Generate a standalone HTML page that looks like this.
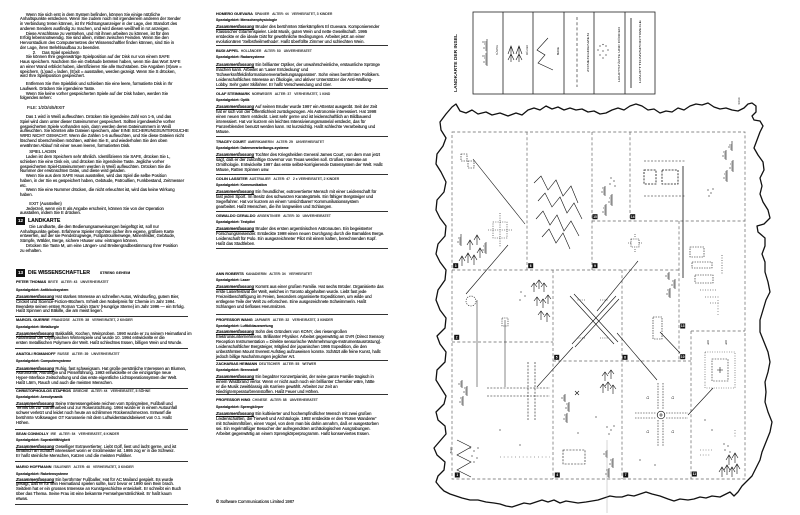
<!DOCTYPE html>
<html><head><meta charset="utf-8">
<style>
html,body{margin:0;padding:0;background:#fff;}
body{width:800px;height:515px;position:relative;overflow:hidden;font-family:"Liberation Sans",sans-serif;color:#111;}
.i,.n,.s,.p,.pm,.h{-webkit-text-stroke:0.12px #111;}
.i{position:absolute;left:20px;font-size:4.2px;line-height:4.75px;white-space:pre;}
.n{position:absolute;font-size:3.7px;line-height:5px;white-space:pre;}
.n b{font-size:3.8px;}
.n span{font-size:3.2px;letter-spacing:.12px;}
.s{position:absolute;font-size:3.5px;font-weight:bold;line-height:5px;white-space:pre;}
.p{position:absolute;font-size:4.2px;line-height:4.8px;white-space:pre;}
.pm{position:absolute;font-size:4.2px;line-height:5px;white-space:pre;}
.p b,.pm b{font-style:italic;text-decoration:underline;}
.L{left:16px;}
.M{left:216px;}
.r{position:absolute;height:0;border-top:0.9px solid #333;}
.rl{left:15px;width:173px;}
.rm{left:216px;width:172px;}
.box{position:absolute;background:#111;color:#fff;font-weight:bold;font-size:4.6px;line-height:8px;text-align:center;}
.h{position:absolute;font-weight:bold;white-space:pre;}
</style></head><body>

<!-- LEFT COLUMN: instructions -->
<div class="i" style="top:12.6px">     Wenn Sie sich erst in dem System befinden, können Sie einige nützliche
Anhaltspunkte entdecken. Wenn Sie zudem noch mit irgendeinem anderen der Sender
in Verbindung treten können, ist Ihr Richtungsanzeiger in der Lage, den Standort des
anderen Senders ausfindig zu machen, und wird diesen weißhell in rot anzeigen.
     Diese Anschlüsse zu verstehen, und mit ihnen arbeiten zu können, ist für den
Erfolg lebensnotwendig. Sie sind allein, mitten zwischen Feinden. Wenn Sie den
Hervorstadium des Computernetzes der Wissenschaftler finden können, sind Sie in
der Lage, ihren Befehlsaufbau zu beenden.
           2.     Das Spiel speichern
     Sie können Ihre gegenwärtige Spielposition auf der Disk nur von einem SAFE
Haus speichern. Nachdem Sie ein Gebäude betreten haben, wenn Sie das Wort SAFE
an einer Wand erblickt haben, identifizieren Sie alle Buchstaben. Die Angaben (S)ave =
speichern, (L)oad = laden, (E)xit = ausstallen, werden gezeigt. Wenn Sie S drücken,
wird Ihre Spielposition gespeichert.</div>
<div class="i" style="top:82.1px">     Entfernen Sie Ihre Spieldisk und schieben Sie eine leere, formatierte Disk in Ihr
Laufwerk. Drücken Sie irgendeine Taste.
     Wenn Sie keine vorher gespeicherten Spiele auf der Disk haben, werden Sie
folgendes sehen:</div>
<div class="i" style="top:105.9px;left:27px">FILE: 1/2/3/4/5/EXIT</div>
<div class="i" style="top:115.1px">     Das 1 wird in Weiß aufleuchten. Drücken Sie irgendeine Zahl von 1-5, und das
Spiel wird dann unter dieser Dateinummer gespeichert. Sollten irgendwelche vorher
gespeicherten Spiele vorhanden sein, dann werden deren Dateinummern in Weiß
aufleuchten. Sie könnten alte Dateien speichern, aber EINE SICHERUNGSUNTERSUCHE
WIRD NICHT GEMACHT. Wenn die Zahlen 1-5 aufleuchten, und Sie diese Dateien nicht
löschend überschreiben möchten, wählen Sie E, und wiederholen Sie den oben
erwähnten Ablauf mit einer neuen leeren, formatierten Disk.</div>
<div class="i" style="top:150.3px">        SPIEL LADEN
     Laden ist dem Speichern sehr ähnlich. Identifizieren Sie SAFE, drücken Sie L,
schieben Sie eine Disk ein, und drücken Sie irgendeine Taste. Jegliche vorher
gespeicherten Spiel-Dateinummern werden in Weiß aufleuchten. Drücken Sie die
Nummer der erwünschten Datei, und diese wird geladen.
     Wenn Sie aus dem SAFE Haus ausstellen, wird das Spiel die selbe Position
haben, in der Sie es gespeichert haben, Gebäude, Patroullien, Funkbestand, Zeitmesser
etc.
     Wenn Sie eine Nummer drücken, die nicht erleuchtet ist, wird das keine Wirkung
haben.</div>
<div class="i" style="top:201.9px">        EXIT (Ausstellen)
     Jederzeit, wenn ein E als Angabe erscheint, können Sie von der Operation
ausstallen, indem Sie E drücken.</div>
<div class="box" style="left:16px;top:217px;width:9px;height:8px;">12</div>
<div class="h" style="left:28px;top:217.5px;font-size:5.2px;line-height:6px;">LANDKARTE</div>
<div class="i" style="top:224.9px">        Die Landkarte, die den Bedienungsanweisungen beigefügt ist, soll nur
Anhaltspunkte geben. Erfahrene Spieler möchten sicher ihre eigene, größere Karte
entwerfen, auf der sie Pendelzugwege, Fußpatrouillenwege, Minenfelder, Gebäude,
Sümpfe, Wälder, Berge, sichere Häuser usw. eintragen können.
     Drücken Sie Taste M, um eine Längen- und Breitengradbestimmung Ihrer Position
zu erhalten.</div>

<!-- LEFT COLUMN: scientists -->
<div class="box" style="left:16px;top:269.3px;width:9px;height:8px;">13</div>
<div class="h" style="left:28px;top:270.3px;font-size:5.2px;line-height:6px;">DIE WISSENSCHAFTLER</div>
<div class="h" style="left:100px;top:271.3px;font-size:3.3px;line-height:4px;letter-spacing:.2px;">STRENG GEHEIM</div>

<div class="n L" style="top:280.2px"><b>PETER THOMAS</b><span>  BRITE   ALTER: 43   UNVERHEIRATET</span></div>
<div class="s L" style="top:287.5px">Spezialgebiet: Antiblocksystem</div>
<div class="p L" style="top:295.1px"><b>Zusammenfassung</b> Hat starkes Interesse an schnellen Autos, Windsurfing, gutem Bier,
Cricket und Science-Fiction-Büchern. Erhielt den Nobelpreis für Chemie im Jahr 1994.
Beendete seinen ersten Roman 'Cabin Stars' (Hungrige Sterne) im Jahr 1996 — ein Erfolg.
Haßt Spinnen und Bäkille, die am meist liegen.</div>
<div class="r rl" style="top:315.5px"></div>

<div class="n L" style="top:318.2px"><b>MARCEL GUERRE</b><span>  FRANZOSE   ALTER: 38   VERHEIRATET, 2 KINDER</span></div>
<div class="s L" style="top:325.2px">Spezialgebiet: Metallurgie</div>
<div class="p L" style="top:331.6px"><b>Zusammenfassung</b> Bakkalitik, Kochen, Weinproben. 1990 wurde er zu seinem Heimatland im
Abfahrtlauf der Olympischen Winterspiele und wurde 10. 1994 entwickelte er die
ersten metallischen Polymere der Welt. Haßt schlechtes Essen, billigen Wein und Wunde.</div>
<div class="r rl" style="top:347.5px"></div>

<div class="n L" style="top:351.5px"><b>ANATOLI ROMANOFF</b><span>  RUSSE   ALTER: 39   UNVERHEIRATET</span></div>
<div class="s L" style="top:359px">Spezialgebiet: Computersysteme</div>
<div class="p L" style="top:366.6px"><b>Zusammenfassung</b> Ruhig, fast schweigsam. Hat große persönliche Interessen an Blumen,
Astronomie, Astrologie und Pinselführung. 1993 entwickelte er die einzigartige neue
Hyper-Interface Zeitschaltung und das erste eigentliche Lichtoperationsystem der Welt.
Haßt Lärm, Rauch und auch die meisten Menschen.</div>
<div class="r rl" style="top:387.5px"></div>

<div class="n L" style="top:388.8px"><b>CHRISTOPHOULOS STAPROS</b><span>  GRIECHE   ALTER: 44   VERHEIRATET, 5 SÖHNE</span></div>
<div class="s L" style="top:395.2px">Spezialgebiet: Aerodynamik</div>
<div class="p L" style="top:401.6px"><b>Zusammenfassung</b> Seine Interessengebiete reichen vom Springreiten, Fußball und
Tennis bis zur Gartenarbeit und zur Rosenzüchtung. 1994 wurde er in einem Autounfall
schwer verletzt und leidet noch heute an schlimmen Rückenschmerzen. Entwarf die
berühmte Volkswagen GT Karosserie mit dem Luftwiderstandsbeiwert von 0.1. Haßt
Höhen.</div>
<div class="r rl" style="top:429px"></div>

<div class="n L" style="top:431.5px"><b>SEAN CONNOLLY</b><span>  IRE   ALTER: 54   VERHEIRATET, 6 KINDER</span></div>
<div class="s L" style="top:437.8px">Spezialgebiet: Supraleitfähigkeit</div>
<div class="p L" style="top:444.6px"><b>Zusammenfassung</b> Geselliger Extravertierter. Liebt Golf, liest und lacht gerne, und ist
fanatisch an Schach interessiert worin er Großmeister ist. 1995 zog er in die Schweiz.
Er haßt steinliche Menschen, Katzen und die meisten Politiker.</div>
<div class="r rl" style="top:461px"></div>

<div class="n L" style="top:464.8px"><b>MARIO HOFFMANN</b><span>  ITALIENER   ALTER: 40   VERHEIRATET, 3 KINDER</span></div>
<div class="s L" style="top:471.5px">Spezialgebiet: Raketensysteme</div>
<div class="p L" style="top:477.6px"><b>Zusammenfassung</b> Ein berühmter Fußballer. Hat für AC Mailand gespielt. Es wurde
gesagt, daß er für sein Heimatland spielen sollte, kurz bevor er 1990 sein Bein brach.
Seitdem hat er ein grosses Interesse an Kunstgeschichte entwickelt. Er schreibt ein Buch
über das Thema. Seine Frau ist eine bekannte Fernsehpersönlichkeit. Er haßt kaum
etwas.</div>
<div class="r rl" style="top:503.7px"></div>

<!-- MIDDLE COLUMN -->
<div class="n M" style="top:11.5px"><b>HOMERO GUEVARA</b><span>  SPANIER   ALTER: 44   VERHEIRATET, 3 KINDER</span></div>
<div class="s M" style="top:18.2px">Spezialgebiet: Menschenphysiologie</div>
<div class="pm M" style="top:24.2px"><b>Zusammenfassung</b> Bruder des berühmten Stierkämpfers El Guevara. Komponierender
Klassischer Gitarrenspieler. Liebt Musik, guten Wein und nette Gesellschaft. 1995
entdeckte er die ideale Diät für gewöhnliche Bedingungen. Arbeitet jetzt an einer
evolutionären 'Selbstheilmethode'. Haßt überfüllte Zimmer und schlechten Wein.</div>
<div class="r rm" style="top:45px"></div>

<div class="n M" style="top:49.2px"><b>BUDI APPEL</b><span>  HOLLÄNDER   ALTER: 50   UNVERHEIRATET</span></div>
<div class="s M" style="top:54.8px">Spezialgebiet: Radarsysteme</div>
<div class="pm M" style="top:61.8px"><b>Zusammenfassung</b> Ein brillianter Optiker, der unwahrscheinliche, erstaunliche Sprünge
machen kann. Arbeitet an 'Laser Entdeckung' und
'Schwerkraftfeldinformationenverarbeitungsapparaten'. Sohn eines berühmten Politikers.
Leidenschaftliches Interesse an Ökologie, und aktiver Unterstützer der Anti-Walfang-
Lobby. Sehr guter Skifahrer. Er haßt Verschwendung und Gier.</div>
<div class="r rm" style="top:87.7px"></div>

<div class="n M" style="top:91.8px"><b>OLAF STEINMARK</b><span>  NORWEGER   ALTER: 37   VERHEIRATET, 1 KIND</span></div>
<div class="s M" style="top:97.5px">Spezialgebiet: Optik</div>
<div class="pm M" style="top:104.2px"><b>Zusammenfassung</b> Auf seinen Bruder wurde 1997 ein Attentat ausgeübt. Seit der Zeit
hat er sich von der Öffentlichkeit zurückgezogen. Als Astronomie interessiert. Hat 1998
einen neuen Stern entdeckt. Liest sehr gerne und ist leidenschaftlich an Bildbauend
interessiert. Hat vor kurzem ein leichtes Intensivierungsmaterial entdeckt, das für
Panzerblenden benutzt werden kann. Ist kurzsichtig. Haßt schlechte Verarbeitung und
Mäuse.</div>
<div class="r rm" style="top:136px"></div>

<div class="n M" style="top:140px"><b>TRACEY COURT</b><span>  AMERIKANERIN   ALTER: 29   UNVERHEIRATET</span></div>
<div class="s M" style="top:145.8px">Spezialgebiet: Datenverarbeitungs-systeme</div>
<div class="pm M" style="top:152.2px"><b>Zusammenfassung</b> Tochter des Kriegshelden General James Court, von dem man jetzt
sagt, daß er der zukünftige Governor von Texas werden soll. Großes Interesse an
Ornithologie. Entwickelte 1997 das erste selbst-korrigierende Datensystem der Welt. Haßt
Mäuse, Ratten Spinnen usw.</div>
<div class="r rm" style="top:174px"></div>

<div class="n M" style="top:176.8px"><b>COLIN LASSITER</b><span>  AUSTRALIER   ALTER: 47   2 x VERHEIRATET, 2 KINDER</span></div>
<div class="s M" style="top:182.5px">Spezialgebiet: Kommunikation</div>
<div class="pm M" style="top:189px"><b>Zusammenfassung</b> Ein freundlicher, extrovertierter Mensch mit einer Leidenschaft für
fast jeden Sport. Im Besitz des schwarzen Karategürtels. Ein fähiger Bergsteiger und
Segelfahrer. Hat vor kurzem an einem 'unsichtbaren' Kommunikationssystem
gearbeitet. Haßt Menschen, die ihn langweilen und Schlangen.</div>
<div class="r rm" style="top:210.7px"></div>

<div class="n M" style="top:214.2px"><b>OSWALDO CERALDO</b><span>  ARGENTINIER   ALTER: 30   UNVERHEIRATET</span></div>
<div class="s M" style="top:219.8px">Spezialgebiet: Testpilot</div>
<div class="pm M" style="top:226px"><b>Zusammenfassung</b> Bruder des ersten argentinischen Astronauten. Ein begeisterter
Forschungsreisender. Entdeckte 1998 einen neuen Durchgang durch die Barnaldes Berge.
Leidenschaft für Polo. Ein ausgezeichneter Pilot mit einem kalten, berechnenden Kopf.
Haßt das Stadtleben.</div>
<div class="r rm" style="top:248.3px"></div>

<div class="n M" style="top:271.5px"><b>ANN ROBERTS</b><span>  KANADIERIN   ALTER: 34   VERHEIRATET</span></div>
<div class="s M" style="top:278px">Spezialgebiet: Laser</div>
<div class="pm M" style="top:284px"><b>Zusammenfassung</b> Kommt aus einer großen Familie. Hat sechs Brüder. Organisierte das
erste Laserfestival der Welt, welches in Toronto abgehalten wurde. Liebt fast jede
Freizeitbeschäftigung im Freien, besonders organisierte Expeditionen, um wilde und
entlegene Teile der Welt zu erforschen. Eine ausgezeichnete Schwimmerin. Haßt
Schlangen und tiefloses Herumsitzen.</div>
<div class="r rm" style="top:313.5px"></div>

<div class="n M" style="top:317.5px"><b>PROFESSOR WANG</b><span>  JAPANER   ALTER: 32   VERHEIRATET, 3 KINDER</span></div>
<div class="s M" style="top:323.5px">Spezialgebiet: Luftbildauswertung</div>
<div class="pm M" style="top:329px"><b>Zusammenfassung</b> Sohn des Gründers von KONY, des riesengroßen
Elektronikunternehmens. Brillianter Physiker. Arbeitet gegenwärtig an DVR (Direct Sensory
Reception Instrumentation = Direkte sensorische Wahrnehmungs-Instrumentausrüstung).
Leidenschaftlicher Bergsteiger, Mitglied der japanischen 1995 Expedition, die den
unbezähmten Mount Everest Aufstieg aufzuweisen konnte. Schätzt alle feine Kunst, haßt
jedoch billige Nachahmungen jeglicher Art.</div>
<div class="r rm" style="top:360px"></div>

<div class="n M" style="top:362px"><b>ZACHARIAS HEIMANN</b><span>  DEUTSCHER   ALTER: 55   WITWER</span></div>
<div class="s M" style="top:367.8px">Spezialgebiet: Brennstoff</div>
<div class="pm M" style="top:373.5px"><b>Zusammenfassung</b> Ein begabter Konzertpianist, der seine ganze Familie tragisch in
einem Waldbrand verlor. Wenn er nicht auch noch ein brillianter Chemiker wäre, hätte
er die Musik zweitklassig als Karriere gewählt. Arbeitet zur Zeit an
Niedrigtemperaturbrennstoffen. Haßt Feuer und Höhen.</div>
<div class="r rm" style="top:394.3px"></div>

<div class="n M" style="top:398.2px"><b>PROFESSOR HING</b><span>  CHINESE   ALTER: 58   UNVERHEIRATET</span></div>
<div class="s M" style="top:405px">Spezialgebiet: Sprengkörper</div>
<div class="pm M" style="top:411px"><b>Zusammenfassung</b> Ein kultivierter und hochempfindlicher Mensch mit zwei großen
Leidenschaften, die Tierwelt und Archäologie. 1992 entdeckte er den 'Roten Wanderer'
mit Schwimmfüßen, einen Vogel, von dem man bis dahin annahm, daß er ausgestorben
sei. Ein regelmäßiger Besucher der aufregendsten archäologischen Ausgrabungen.
Arbeitet gegenwärtig an einem Sprengkörperprogramm. Haßt konserviertes Essen.</div>

<div class="pm M" style="top:499.2px">© Software Communications Limited 1987</div>

<!-- MAP -->
<svg width="800" height="515" viewBox="0 0 800 515" style="position:absolute;left:0;top:0" xmlns="http://www.w3.org/2000/svg">
<g font-family="Liberation Sans, sans-serif" fill="#111">
  <text transform="translate(457,63) rotate(-90)" font-size="4.4" font-weight="bold" text-anchor="middle" textLength="58" lengthAdjust="spacingAndGlyphs">LANDKARTE DER INSEL</text>
  <text transform="translate(498,50) rotate(-90)" font-size="2.8" text-anchor="middle" textLength="10" lengthAdjust="spacingAndGlyphs">SÜMPFE</text>
  <text transform="translate(528,50) rotate(-90)" font-size="2.8" text-anchor="middle" textLength="10" lengthAdjust="spacingAndGlyphs">WÄLDER</text>
  <text transform="translate(559,51) rotate(-90)" font-size="2.8" text-anchor="middle" textLength="8" lengthAdjust="spacingAndGlyphs">BERGE</text>
  <text transform="translate(589,52.5) rotate(-90)" font-size="2.8" text-anchor="middle" textLength="39" lengthAdjust="spacingAndGlyphs">ZONENGRENZEN</text>
  <text transform="translate(620,54.5) rotate(-90)" font-size="2.8" text-anchor="middle" textLength="55" lengthAdjust="spacingAndGlyphs">HAUPTSTÄDTE UND DÖRFER</text>
  <text transform="translate(641,51.5) rotate(-90)" font-size="2.8" text-anchor="middle" textLength="63" lengthAdjust="spacingAndGlyphs">HAUPTTRANSPORTWEGE</text>
  <text transform="translate(740,101) rotate(-90)" font-size="2.4" text-anchor="middle">NORD</text>
  <text transform="translate(452,450) rotate(-90)" font-size="2.4" text-anchor="middle">BERG</text>
</g>
<!-- legend box -->
<g stroke="#222" fill="none" stroke-width="0.8">
  <rect x="473" y="12" width="182" height="82"/>
  <path d="M503,12V94M533,12V94M564,12V94M594,12V94M625,12V94"/>
</g>
<g stroke="#111" fill="none" stroke-width="0.6">
  <path d="M487,66 v-14 m0,12 h-2 m2,-2 h-4 m4,-2 h-2 m2,-2 h-3 m3,-2 h-5 m5,-2 h-2"/>
  <path d="M487,52 v-13 m0,11 h-2 m2,-2 h-4 m4,-2 h-2 m2,-2 h-3 m3,-2 h-5"/>
  <path d="M511,62 v-16 m-3,8 l3,-8 l3,8 m-6,6 l3,-6 l3,6"/>
  <path d="M519,62 v-16 m-3,8 l3,-8 l3,8 m-6,6 l3,-6 l3,6"/>
  <polyline points="548,38 537,50 545,55 538,63 553,70"/>
  <path d="M577,17V87" stroke-dasharray="3,2.2"/>
  <path d="M631,18V88" stroke-width="0.8"/>
</g>
<g fill="#222">
  <circle cx="600" cy="46" r="0.6"/><circle cx="603" cy="44.5" r="0.6"/><circle cx="606" cy="46" r="0.6"/>
  <circle cx="598" cy="50" r="0.6"/><circle cx="608" cy="50" r="0.6"/><circle cx="603" cy="51" r="0.6"/>
  <circle cx="600" cy="55" r="0.6"/><circle cx="606" cy="55" r="0.6"/><circle cx="603" cy="58" r="0.6"/>
</g>

<!-- coastline -->
<path fill="none" stroke="#111" stroke-width="1.3" stroke-linejoin="round" d="M452,107 L456,104 460,111 466,113 472,110 478,114 486,112 492,115 500,113 508,116 516,113 522,115 528,110 534,108 540,110 546,106 552,109 558,107 564,110 570,108 576,110 582,109 588,112 594,111 600,114 606,113 612,110 618,108 624,110 630,106 636,104 642,106 648,110 654,109 660,113 666,111 672,112 678,108 684,110 690,106 696,104 702,105 708,103 714,107 720,109 726,108 732,110 738,111 744,108 748,104 752,103 756,106 756,112 752,116 754,120 760,121 763,126 760,132 757,140 754,148 758,155 763,162 764,170 760,178 762,186 760,194 763,202 768,210 770,218 764,224 757,226 758,232 765,238 765,246 762,254 765,262 765,272 768,282 770,292 766,300 763,310 760,320 760,332 764,342 768,352 770,362 768,372 765,382 766,392 765,402 768,412 772,422 770,432 766,442 762,452 760,460 756,468 752,476 747,481 742,486 738,492 734,496 730,492 726,494 720,497 712,496 706,498 700,497 694,499 688,500 680,499 674,501 668,499 660,496 652,494 646,492 640,494 634,496 628,495 622,497 616,497 610,496 604,498 598,500 592,501 586,502 578,503 572,502 566,501 560,503 554,500 548,502 542,500 536,502 530,504 524,503 518,505 512,507 506,506 500,504 494,503 486,502 478,500 470,500 462,498 456,496 450,494 444,491 440,487 436,482 438,476 444,470 445,462 437,455 434,448 440,441 446,434 445,426 438,420 436,412 444,404 446,396 441,388 436,380 437,370 445,362 446,352 440,344 437,336 445,328 446,318 440,310 436,300 438,290 445,280 446,270 440,262 436,254 438,244 445,236 446,226 440,218 436,210 437,200 444,192 446,182 441,172 436,164 437,154 443,146 446,138 441,130 440,122 446,114 Z"/>

<!-- grid -->
<g stroke="#666" fill="none" stroke-width="0.7" stroke-dasharray="3,2.2">
  <rect x="452" y="132" width="293" height="347"/>
  <path d="M527,132V270 M592,132V270 M630,132V221 M592,221H745 M452,270H679 M679,221V361 M553,270V479 M622,270V479 M452,342H553 M553,361H691 M691,331V479 M691,331H745"/>
</g>

<!-- map features -->
<g stroke="#111" fill="none" stroke-width="0.6">
  <rect x="461" y="154" width="6" height="7" stroke-dasharray="1.5,1"/>
  <rect x="468" y="161" width="6" height="7" stroke-dasharray="1.5,1"/>
  <line x1="473" y1="159" x2="525" y2="224"/>
  <line x1="508" y1="245" x2="466" y2="294"/>
  <path d="M488,230H513 M500,213V247 M493,222h14v16h-14z" stroke-dasharray="1,1.3"/>
  <path d="M462,266 v-10 m-3,5 l3,-5 l3,5"/><path d="M468,263 v-10 m-3,5 l3,-5 l3,5"/>
  <path d="M474,265 v-10 m-3,5 l3,-5 l3,5"/><path d="M480,258 v-10 m-3,5 l3,-5 l3,5"/>
  <path d="M470,250 v-10 m-3,5 l3,-5 l3,5"/><path d="M477,245 v-10 m-3,5 l3,-5 l3,5"/>
  <path d="M486,254 v-12 m0,10 h-2 m2,-2 h-4 m4,-2 h-2 m2,-2 h-3 m3,-2 h-2"/>
  <path d="M461,246 v-12 m0,10 h-2 m2,-2 h-4 m4,-2 h-2 m2,-2 h-3"/>
  <polyline points="534,183 541,176 548,190 556,180 563,196 571,186 578,203"/>
  <polyline points="538,201 545,193 552,207 560,197 567,213 574,203 582,219"/>
  <polyline points="536,219 543,211 550,225 557,215 564,231 571,221 579,236"/>
  <polyline points="542,237 549,229 556,243 563,233 570,249"/>
  <path d="M606,216 v-12 m0,10 h-2 m2,-2 h-4 m4,-2 h-2 m2,-2 h-3 m3,-2 h-2"/>
  <path d="M612,206 v-12 m0,10 h-2 m2,-2 h-4 m4,-2 h-2 m2,-2 h-3 m3,-2 h-2"/>
  <path d="M605,196 v-10 m0,8 h-2 m2,-2 h-4 m4,-2 h-2 m2,-2 h-3"/>
  <rect x="644" y="170" width="12" height="14" stroke-dasharray="2,1.2" stroke-width="0.8"/>
  <rect x="662" y="170" width="16" height="14" stroke-dasharray="2,1.2" stroke-width="0.8"/>
  <path d="M644,161H686 M644,196H686" stroke-dasharray="2,1.5"/>
  <path d="M683,166V278" stroke-width="0.8"/>
  <path d="M727,182 v-12 m0,10 h-2 m2,-2 h-4 m4,-2 h-2 m2,-2 h-3 m3,-2 h-2"/>
  <path d="M733,172 v-12 m0,10 h-2 m2,-2 h-4 m4,-2 h-2 m2,-2 h-3 m3,-2 h-2"/>
  <path d="M726,160 v-10 m0,8 h-2 m2,-2 h-4 m4,-2 h-2 m2,-2 h-3"/>
  <path d="M732,151 v-10 m0,8 h-2 m2,-2 h-4 m4,-2 h-3"/>
  <rect x="631" y="239" width="8" height="8" stroke-dasharray="1.2,1"/>
  <path d="M628,243h3 M639,243h3 M635,234v3 M635,249v3" stroke-dasharray="1,1"/>
  <line x1="638" y1="261" x2="597" y2="311"/>
  <rect x="690" y="247" width="14" height="10" stroke-dasharray="1.5,1"/>
  <rect x="692" y="262" width="20" height="6" stroke-dasharray="1.5,1"/>
  <rect x="695" y="275" width="18" height="8" stroke-dasharray="1.5,1"/>
  <path d="M700,290h16 M705,297h14 M710,303h10 M722,255v20" stroke-dasharray="1,1.5"/>
  <circle cx="471" cy="301" r="5" stroke-dasharray="1.2,1.2"/>
  <path d="M477,300V387 M505,320V387" stroke-width="0.5"/>
  <rect x="502" y="318" width="6" height="8" stroke-dasharray="1.2,1"/>
  <path d="M534,292 v-9 m-3,4 l3,-4 l3,4"/><path d="M539,289 v-9 m-3,4 l3,-4 l3,4"/>
  <path d="M544,292 v-9 m-3,4 l3,-4 l3,4"/><path d="M537,306 v-9 m-3,4 l3,-4 l3,4"/>
  <path d="M543,308 v-9 m-3,4 l3,-4 l3,4"/><path d="M548,304 v-9 m-3,4 l3,-4 l3,4"/>
  <path d="M541,320 v-9 m-3,4 l3,-4 l3,4"/><path d="M547,322 v-9 m-3,4 l3,-4 l3,4"/>
  <path d="M570,296 L614,344 M574,294 L618,342 M616,296 L572,344 M619,299 L575,347" stroke-width="0.6"/>
  <path d="M585,300h-8 M600,300h8 M585,338h-8 M600,338h8" stroke-dasharray="1,1.2"/>
  <line x1="537" y1="387" x2="573" y2="347"/>
  <line x1="617" y1="333" x2="657" y2="380"/>
  <path d="M670,298 v-10 m0,8 h-2 m2,-2 h-4 m4,-2 h-2 m2,-2 h-3"/>
  <path d="M675,289 v-10 m0,8 h-2 m2,-2 h-4 m4,-2 h-2 m2,-2 h-3"/>
  <path d="M669,280 v-8 m0,6 h-2 m2,-2 h-4 m4,-2 h-2"/>
  <rect x="653" y="317" width="9" height="22" stroke-dasharray="1.5,1"/>
  <line x1="660" y1="332" x2="680" y2="353"/>
  <path d="M487,388H550 M487,396H550 M528,362V420 M535,362V420" stroke-dasharray="2,1.3"/>
  <path d="M463,406 v-10 m0,8 h-2 m2,-2 h-4 m4,-2 h-2 m2,-2 h-3"/>
  <path d="M467,396 v-10 m0,8 h-2 m2,-2 h-4 m4,-2 h-2 m2,-2 h-3"/>
  <path d="M462,388 v-8 m0,6 h-2 m2,-2 h-4 m4,-2 h-2"/>
  <polyline points="457,440 471,447 457,455 471,462 457,470 471,477"/>
  <path d="M500,457H550" stroke-dasharray="0.8,3"/>
  <path d="M603,393 v-9 m-3,4 l3,-4 l3,4"/><path d="M608,391 v-9 m-3,4 l3,-4 l3,4"/>
  <path d="M613,394 v-9 m-3,4 l3,-4 l3,4"/><path d="M605,381 v-9 m-3,4 l3,-4 l3,4"/>
  <path d="M611,379 v-9 m-3,4 l3,-4 l3,4"/>
  <path d="M567,423 v-10 m0,8 h-2 m2,-2 h-4 m4,-2 h-2 m2,-2 h-3"/>
  <path d="M569,412 v-10 m0,8 h-2 m2,-2 h-4 m4,-2 h-2 m2,-2 h-3"/>
  <path d="M565,402 v-8 m0,6 h-2 m2,-2 h-4 m4,-2 h-2"/>
  <path d="M575,391l4,4 M579,391l-4,4"/>
  <rect x="563" y="450" width="22" height="14" stroke-dasharray="2,1.2"/>
  <path d="M609,478 v-10 m0,8 h-2 m2,-2 h-4 m4,-2 h-2 m2,-2 h-3"/>
  <path d="M613,468 v-10 m0,8 h-2 m2,-2 h-4 m4,-2 h-2 m2,-2 h-3"/>
  <path d="M607,458 v-8 m0,6 h-2 m2,-2 h-4 m4,-2 h-2"/>
  <path d="M607,440V513" stroke="#999" stroke-width="0.4"/>
  <circle cx="661" cy="415" r="3.8" stroke-width="0.7"/>
  <path d="M659,415h4 M661,413v4"/>
  <path d="M635,413H656 M635,418H656 M666,413H688 M666,418H688 M658,383V410 M663,383V410 M658,420V447 M663,420V447" stroke-dasharray="1.5,1.2"/>
  <path d="M646,398h4 M671,398h4 M646,432h4 M671,432h4 M648,396v4 M673,396v4 M648,430v4 M673,430v4" stroke-dasharray="1,1"/>
  <rect x="705" y="352" width="30" height="36" stroke-dasharray="0.8,1.6"/>
  <rect x="712" y="359" width="16" height="22" stroke-dasharray="1.5,1.2"/>
  <path d="M717,370h6 M720,367v6"/>
  <path d="M708,340v4h1 M726,340v4h1"/>
  <line x1="688" y1="415" x2="713" y2="388"/>
  <path d="M722,477 v-10 m-3,5 l3,-5 l3,5"/><path d="M727,475 v-10 m-3,5 l3,-5 l3,5"/>
  <path d="M732,477 v-10 m-3,5 l3,-5 l3,5"/><path d="M737,474 v-10 m-3,5 l3,-5 l3,5"/>
  <path d="M729,465 v-10 m-3,5 l3,-5 l3,5"/><path d="M735,463 v-10 m-3,5 l3,-5 l3,5"/>
  <path d="M700,450h14 M700,455h10 M735,430v8 M718,300v15" stroke-dasharray="0.8,2"/>
</g>
<g fill="#222">
  <circle cx="611" cy="178" r="0.6"/><circle cx="614" cy="181" r="0.6"/><circle cx="610" cy="184" r="0.6"/><circle cx="615" cy="186" r="0.6"/>
  <circle cx="708" cy="190" r="0.6"/><circle cx="711" cy="193" r="0.6"/><circle cx="709" cy="196" r="0.6"/><circle cx="713" cy="189" r="0.6"/>
  <circle cx="470" cy="448" r="0.6"/><circle cx="474" cy="451" r="0.6"/><circle cx="478" cy="448" r="0.6"/><circle cx="472" cy="456" r="0.6"/><circle cx="477" cy="458" r="0.6"/><circle cx="474" cy="462" r="0.6"/>
  <circle cx="724" cy="444" r="0.6"/><circle cx="728" cy="446" r="0.6"/><circle cx="725" cy="450" r="0.6"/><circle cx="730" cy="452" r="0.6"/>
  <circle cx="607" cy="427" r="0.6"/><circle cx="611" cy="430" r="0.6"/><circle cx="614" cy="426" r="0.6"/><circle cx="609" cy="434" r="0.6"/>
  <circle cx="521" cy="292" r="0.6"/><circle cx="525" cy="296" r="0.6"/><circle cx="520" cy="300" r="0.6"/>
  <circle cx="578" cy="433" r="0.6"/><circle cx="596" cy="417" r="0.6"/><circle cx="640" cy="460" r="0.6"/><circle cx="655" cy="465" r="0.6"/>
  <circle cx="705" cy="420" r="0.6"/><circle cx="712" cy="430" r="0.6"/><circle cx="500" cy="430" r="0.6"/><circle cx="520" cy="445" r="0.6"/>
</g>
<!-- number boxes -->
<g font-family="Liberation Sans, sans-serif" font-size="3.2" font-weight="bold" text-anchor="middle">
  <rect x="453.2" y="263.2" width="5" height="5" fill="#111"/><text x="455.7" y="266.9" fill="#fff">3</text>
  <rect x="528.2" y="263.2" width="5" height="5" fill="#111"/><text x="530.7" y="266.9" fill="#fff">6</text>
  <rect x="592.5" y="263.2" width="5" height="5" fill="#111"/><text x="595" y="266.9" fill="#fff">9</text>
  <rect x="592.5" y="214.2" width="5" height="5" fill="#111"/><text x="595" y="217.9" fill="#fff">15</text>
  <rect x="630.2" y="214.2" width="5" height="5" fill="#111"/><text x="632.7" y="217.9" fill="#fff">14</text>
  <rect x="454.2" y="334.8" width="5" height="5" fill="#111"/><text x="456.7" y="338.5" fill="#fff">2</text>
  <rect x="554.2" y="354.8" width="5" height="5" fill="#111"/><text x="556.7" y="358.5" fill="#fff">5</text>
  <rect x="622.5" y="354.8" width="5" height="5" fill="#111"/><text x="625" y="358.5" fill="#fff">8</text>
  <rect x="680.2" y="323.5" width="5" height="5" fill="#111"/><text x="682.7" y="327.2" fill="#fff">13</text>
  <rect x="680.2" y="354.2" width="5" height="5" fill="#111"/><text x="682.7" y="357.9" fill="#fff">10</text>
  <rect x="454.8" y="472.5" width="5" height="5" fill="#111"/><text x="457.3" y="476.2" fill="#fff">1</text>
  <rect x="554.8" y="472.5" width="5" height="5" fill="#111"/><text x="557.3" y="476.2" fill="#fff">4</text>
  <rect x="623.2" y="472.5" width="5" height="5" fill="#111"/><text x="625.7" y="476.2" fill="#fff">7</text>
  <rect x="691.8" y="471.5" width="5" height="5" fill="#111"/><text x="694.3" y="475.2" fill="#fff">11</text>
</g>
</svg>
</body></html>
